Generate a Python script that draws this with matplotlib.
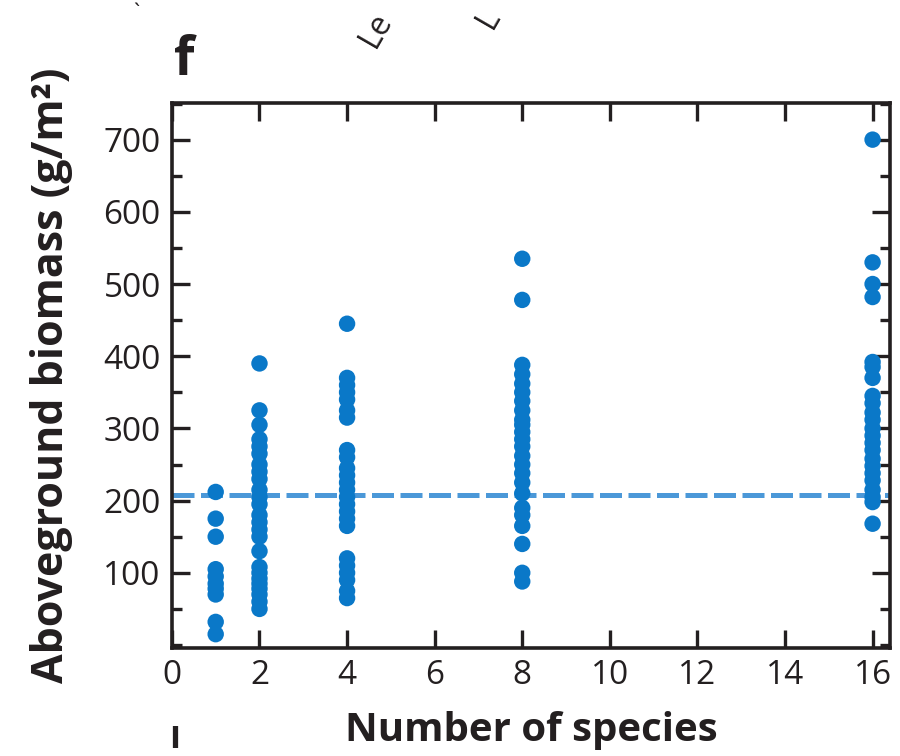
import matplotlib
matplotlib.use("Agg")
import matplotlib.pyplot as plt
from matplotlib.ticker import MultipleLocator

# biomass per plot, grouped by sown species richness
richness = [1, 2, 4, 8, 16]
biomass_1 = [212, 175, 150, 105, 95, 85, 78, 70, 32, 15]
biomass_2 = [390, 325, 305, 285, 275, 265, 250, 240, 230, 215, 205, 195, 180,
             170, 160, 150, 130, 108, 100, 92, 85, 78, 70, 60, 50]
biomass_4 = [445, 370, 360, 350, 340, 325, 315, 270, 260, 245, 235, 225, 215,
             205, 195, 185, 175, 165, 120, 110, 100, 90, 75, 65]
biomass_8 = [535, 478, 388, 375, 362, 350, 338, 325, 312, 305, 295, 285, 275,
             262, 250, 238, 225, 210, 190, 180, 165, 140, 100, 88]
biomass_16 = [700, 530, 500, 482, 392, 385, 370, 345, 335, 322, 312, 300, 290,
              280, 270, 258, 248, 238, 228, 215, 205, 198, 168]
groups = [biomass_1, biomass_2, biomass_4, biomass_8, biomass_16]
mean_line = 208

x_ticks = list(range(0, 17, 2))
y_ticks = [100, 200, 300, 400, 500, 600, 700]

plt.rcParams["font.family"] = ["Open Sans", "DejaVu Sans"]
ink = "#231f20"

fig = plt.figure(figsize=(9, 7.56), dpi=100)
ax = fig.add_axes([0.191, 0.143, 0.798, 0.721])

for n, vals in zip(richness, groups):
    ax.scatter([n] * len(vals), vals, s=140, color="#0a78c8",
               edgecolors="none", zorder=3, clip_on=False)

ax.axhline(mean_line, color="#4b98d8", lw=3.6, dashes=(4.4, 1.3), zorder=2)

ax.set_xlim(0, 16.4)
ax.set_ylim(-4, 751)
ax.set_xticks(x_ticks)
ax.set_yticks(y_ticks)
ax.yaxis.set_minor_locator(MultipleLocator(50))

for s in ax.spines.values():
    s.set_linewidth(2.6)
    s.set_color(ink)

ax.tick_params(which="major", direction="in", length=13, width=2.4,
               top=True, right=True, labelsize=24, pad=8, color=ink,
               labelcolor=ink)
ax.tick_params(which="minor", direction="in", length=7, width=2.4,
               right=True, left=True, color=ink)
ax.tick_params(axis="x", which="minor", bottom=False, top=False)

ax.set_xlabel("Number of species", fontsize=29, fontweight="bold",
              labelpad=14, color=ink)
ax.set_ylabel("Aboveground biomass (g/m²)", fontsize=31,
              fontweight="bold", labelpad=22, color=ink)

# panel letter and edges of labels from neighbouring panels
fig.text(0.193, 0.901, "f", fontsize=38, fontweight="bold", ha="left",
         va="baseline", color=ink)
fig.text(0.393, 0.930, "Le", fontsize=23, rotation=60, ha="left",
         va="bottom", color=ink)
fig.text(0.522, 0.955, "L", fontsize=23, rotation=60, ha="left",
         va="bottom", color=ink)
fig.text(0.148, 0.968, "`", fontsize=16, ha="left", va="bottom", color=ink)
fig.text(0.189, 0.001, "l", fontsize=20, fontweight="heavy", ha="left",
         va="bottom", color=ink)

fig.savefig("out.png", dpi=100)
